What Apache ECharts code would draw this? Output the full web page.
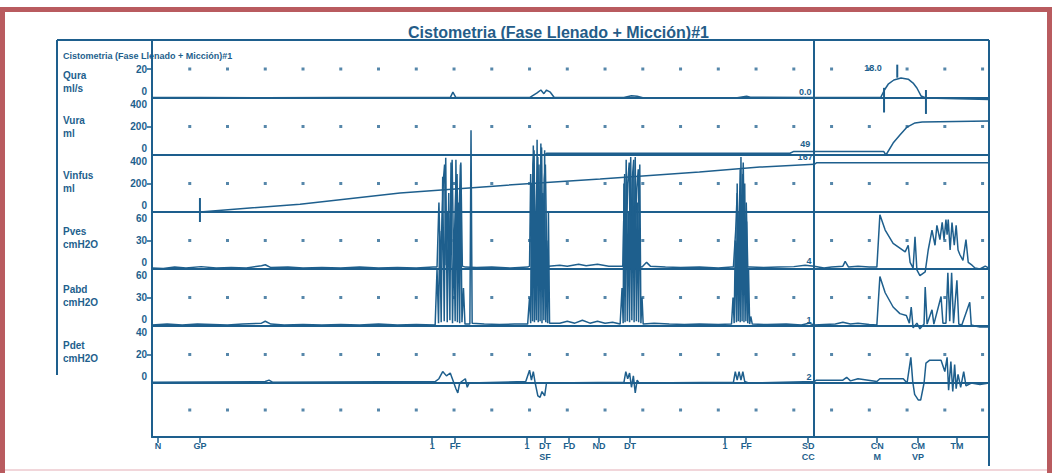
<!DOCTYPE html>
<html>
<head>
<meta charset="utf-8">
<title>Cistometria</title>
<script src="https://cdn.jsdelivr.net/npm/echarts@6/dist/echarts.min.js"></script>
<style>
  html, body { margin: 0; padding: 0; background: #fff; }
  #chart { width: 1052px; height: 473px; }
</style>
</head>
<body>
<div id="chart"></div>
<script>
// x axis: one unit = one grid dot column
const X_MAX = 22.17
const DIVIDER = 17.54

const channelNames = ['Qura\nml/s', 'Vura\nml', 'Vinfus\nml', 'Pves\ncmH2O', 'Pabd\ncmH2O', 'Pdet\ncmH2O']
const channelMax = [40, 400, 400, 60, 60, 40]
const channelMid = [20, 200, 200, 30, 30, 20]
const channelTicks = [[0, 20], [0, 200, 400], [0, 200, 400], [0, 30, 60], [0, 30, 60], [0, 20, 40]]
const dotX = [1, 2, 3, 4, 5, 6, 7, 8, 9, 10, 11, 12, 13, 14, 15, 16, 17, 18, 19, 20, 21, 22]

// event marks under the time axis
const eventX = [0.16, 1.27, 7.42, 8.03, 9.93, 10.41, 11.05, 11.84, 12.66, 15.18, 15.74, 17.38, 19.21, 20.29, 21.32]
const eventLabels = ['N', 'GP', '1', 'FF', '1', 'DT\nSF', 'FD', 'ND', 'DT', '1', 'FF', 'SD\nCC', 'CN\nM', 'CM\nVP', 'TM']

// values printed next to the traces
const annotX = [17.3, 17.3, 17.3, 17.4, 17.4, 17.4]
const annotY = [4, 80, 385, 8, 6, 4]
const annotText = ['0.0', '49', '167', '4', '1', '2']

// vertical markers drawn on traces [x, low, high]
const quraMarks = [[19.39, -10, 7], [19.74, 14, 23], [20.5, -11, 5.5]]
const vinfusMarks = [[1.27, -70, 98]]

const quraData = [[0, 0.3], [1.27, 0.3], [3, 0.2], [5, 0.3], [7.9, 0.3], [7.97, 4], [8.05, 0.3], [10.0, 0.3], [10.2, 3.5], [10.3, 5.5],
  [10.38, 3], [10.45, 5.5], [10.55, 4], [10.65, 0.5], [12.5, 0.3], [12.7, 1.5], [12.85, 1.2], [13, 0.2], [15.5, 0.2], [15.75, 1.2],
  [15.85, 0.5], [17.54, 0.3], [19.3, 0.3], [19.4, 5.5], [19.5, 9.5], [19.65, 12.4], [19.84, 13.8], [20.03, 13], [20.16, 10.3],
  [20.26, 6.9], [20.37, 1.4], [20.5, 0], [22.17, -1]]

const vuraData = [[0, 0], [10.4, 0], [10.45, 12], [16.9, 12], [17.0, 25], [19.38, 25], [19.44, 0], [19.63, 84], [19.81, 140],
  [20.0, 196], [20.21, 225], [20.4, 232], [22.17, 239]]

const vinfusData = [[0, 0], [1.27, 0], [3.92, 55], [6.57, 133], [9.22, 185], [11.87, 232], [14.5, 280], [16.1, 315], [17.54, 335],
  [17.6, 345], [22.17, 345]]

const pvesData = [[0, 1], [0.3, 0.5], [0.6, 2], [0.9, 1], [1.3, 2.5], [1.7, 1], [2.1, 1.5], [2.5, 1], [2.9, 3.5], [3.0, 4.5], [3.15, 1.5],
  [3.6, 2], [4.0, 1], [4.5, 1.5], [5.0, 1], [5.5, 2], [6.0, 1], [6.5, 1.5], [7.0, 1], [7.45, 2],
  [7.55, 2], [7.6, 70], [7.64, 3], [7.72, 95], [7.75, 110], [7.79, 4], [7.83, 60], [7.87, 2], [7.92, 85], [7.95, 115], [7.99, 3],
  [8.05, 90], [8.08, 100], [8.11, 2], [8.15, 80], [8.18, 112], [8.22, 3], [8.3, 2],
  [8.6, 1.5], [9.0, 2], [9.5, 1], [9.95, 2],
  [10.0, 3], [10.03, 100], [10.06, 5], [10.09, 110], [10.12, 125], [10.15, 3], [10.19, 90], [10.22, 118], [10.25, 6], [10.29, 105],
  [10.32, 128], [10.35, 4], [10.39, 95], [10.42, 110], [10.46, 5], [10.5, 3],
  [10.8, 4], [11.0, 3], [11.3, 5], [11.5, 3.5], [11.8, 5], [12.1, 3], [12.4, 3],
  [12.47, 3], [12.52, 100], [12.55, 4], [12.6, 90], [12.64, 112], [12.67, 3], [12.72, 95], [12.76, 115], [12.79, 4], [12.84, 85],
  [12.88, 105], [12.92, 3], [12.98, 2],
  [13.1, 7], [13.2, 3], [13.6, 2], [14.0, 1.5], [14.5, 2], [15.0, 1], [15.35, 2],
  [15.4, 2], [15.46, 40], [15.5, 80], [15.53, 3], [15.58, 105], [15.61, 4], [15.66, 112], [15.7, 3], [15.74, 70], [15.78, 2], [15.85, 2],
  [16.2, 1.5], [16.6, 2], [17.0, 2.5], [17.3, 4], [17.54, 3], [17.8, 1], [18.0, 2], [18.3, 3], [18.36, 8], [18.45, 2], [18.7, 3],
  [19.0, 2], [19.2, 2],
  [19.28, 57], [19.42, 41], [19.63, 27], [19.81, 22], [19.95, 18], [20.03, 25], [20.08, 7], [20.16, 1], [20.21, 34], [20.26, -1],
  [20.34, -7], [20.48, -3], [20.56, 20], [20.66, 41], [20.74, 25], [20.79, 46], [20.87, 31], [20.93, 49], [20.98, 31], [21.03, 52],
  [21.06, 36], [21.09, 52], [21.14, 20], [21.19, 49], [21.25, 25], [21.3, 46], [21.35, 20], [21.4, 15], [21.48, 9], [21.56, 31],
  [21.62, 7], [21.72, 4], [21.8, 1], [21.93, 0], [22.07, 3], [22.17, 1]]

const pabdData = [[0, 1], [0.4, 2], [0.8, 1], [1.2, 2], [1.6, 1.5], [2.0, 1], [2.4, 2], [2.9, 3], [3.0, 5], [3.15, 2], [3.5, 1],
  [4.0, 1.5], [4.5, 1], [5.0, 1.5], [5.5, 1], [6.0, 2], [6.5, 1], [7.0, 1.5], [7.5, 1],
  [7.55, 60], [7.59, 3], [7.62, 100], [7.66, 4], [7.7, 157], [7.74, 5], [7.78, 177], [7.82, 4], [7.86, 140], [7.89, 6], [7.92, 172],
  [7.96, 3], [8.0, 90], [8.03, 5], [8.05, 175], [8.09, 4], [8.12, 130], [8.15, 3], [8.17, 170], [8.21, 4], [8.25, 40], [8.29, 2],
  [8.42, 2], [8.45, 206], [8.48, 3],
  [8.8, 2], [9.2, 1.5], [9.6, 2], [9.95, 2],
  [10.0, 30], [10.03, 3], [10.05, 150], [10.08, 5], [10.1, 190], [10.13, 4], [10.15, 120], [10.18, 6], [10.2, 196], [10.23, 4],
  [10.25, 170], [10.28, 5], [10.3, 192], [10.33, 3], [10.35, 140], [10.38, 6], [10.4, 185], [10.43, 4], [10.45, 90], [10.48, 3],
  [10.5, 120], [10.53, 3],
  [10.8, 3], [11.0, 5], [11.2, 3], [11.4, 6], [11.6, 3], [11.8, 5], [12.0, 3], [12.2, 4], [12.4, 2],
  [12.45, 40], [12.48, 3], [12.5, 150], [12.53, 4], [12.56, 175], [12.59, 5], [12.62, 120], [12.65, 4], [12.68, 178], [12.71, 6],
  [12.74, 160], [12.77, 4], [12.8, 178], [12.83, 5], [12.86, 130], [12.89, 4], [12.92, 170], [12.95, 3], [12.98, 30], [13.01, 2],
  [13.3, 3], [13.7, 2], [14.1, 1.5], [14.5, 2], [15.0, 1.5], [15.35, 2],
  [15.39, 30], [15.42, 3], [15.45, 90], [15.48, 4], [15.5, 150], [15.53, 5], [15.55, 120], [15.58, 4], [15.6, 178], [15.63, 5],
  [15.65, 160], [15.68, 4], [15.7, 150], [15.73, 5], [15.75, 110], [15.78, 3], [15.8, 60], [15.83, 2], [15.86, 10], [15.9, 2],
  [16.3, 1.5], [16.8, 2], [17.2, 1], [17.4, 3], [17.54, 1], [17.8, 1.5], [18.1, 2], [18.3, 4], [18.5, 2], [18.7, 3], [19.0, 1.5], [19.2, 1],
  [19.28, 52], [19.42, 35], [19.63, 20], [19.81, 13], [19.98, 11], [20.06, 3], [20.11, 20], [20.16, -2], [20.26, 3], [20.34, -3],
  [20.45, 2], [20.48, 41], [20.53, 2], [20.66, 17], [20.71, 2], [20.9, 31], [20.95, 3], [21.03, 3], [21.08, 56], [21.13, 5],
  [21.18, 56], [21.23, 3], [21.32, 48], [21.37, 2], [21.45, 1], [21.66, 25], [21.7, 1], [21.8, 0], [21.93, -1], [22.17, -1]]

const pdetData = [[0, 0.5], [3, 1], [3.1, 2], [3.2, 0.5], [7.5, 1], [7.6, 3], [7.7, 8], [7.8, 5], [7.9, 7], [7.97, 2], [8.05, -4],
  [8.1, -7], [8.15, 0], [8.3, 3], [8.35, -3], [8.4, 0], [9.9, 1], [10.0, 9], [10.05, 2], [10.1, 8], [10.15, 0], [10.22, -9],
  [10.28, -10], [10.33, -6], [10.4, -9], [10.45, 0], [12.5, 0.5], [12.55, 8], [12.6, 3], [12.65, 7], [12.7, -3], [12.75, 5],
  [12.8, -7], [12.85, 2], [12.9, 0], [15.4, 0.5], [15.45, 8], [15.5, 2], [15.55, 8], [15.6, 2], [15.65, 8], [15.7, 1], [15.8, 0],
  [17.54, 1], [17.6, 2], [18.3, 2], [18.4, 4], [18.5, 1.5], [18.7, 3], [19.2, 1], [19.28, 3], [19.9, 3], [20.0, 0], [20.1, 18],
  [20.15, 1], [20.2, -8], [20.3, -12], [20.36, -12], [20.45, 0], [20.5, 14], [20.6, 16], [20.9, 16], [21.0, 8], [21.06, 18],
  [21.1, -5], [21.16, 15], [21.21, -6], [21.26, 13], [21.3, -4], [21.35, 6], [21.42, -3], [21.5, 8], [21.56, -2], [21.7, 0],
  [21.93, -1], [22.17, 0]]

const traces = [quraData, vuraData, vinfusData, pvesData, pabdData, pdetData]
const marks = [quraMarks, [], vinfusMarks, [], [], []]

const BLUE = '#1e5f8d'
const FONT = 'Liberation Sans'

// layout of the 7 strips (6 channels + empty bottom strip)
const gridTops = [40, 98, 155, 212, 269, 326, 383]
const gridHeights = [58, 57, 57, 57, 57, 57, 54]
const nameTops = [64, 109, 164, 220, 278, 334]

const chart = echarts.init(document.getElementById('chart'), null, { renderer: 'svg' })

const grids = gridTops.map((t, i) => ({ left: 152, right: 63, top: t, height: gridHeights[i] }))

const xAxes = gridTops.map((t, i) => ({
  type: 'value',
  gridIndex: i,
  min: 0,
  max: X_MAX,
  interval: 1,
  axisLine: { show: true, onZero: false, lineStyle: { color: BLUE, width: 2 } },
  axisTick: i === 6
    ? { show: true, customValues: eventX, length: 6, lineStyle: { color: BLUE, width: 1.5 } }
    : { show: false },
  axisLabel: i === 6
    ? {
        show: true,
        customValues: eventX,
        margin: 3,
        color: BLUE,
        fontSize: 9,
        fontWeight: 'bold',
        fontFamily: FONT,
        lineHeight: 11,
        formatter: v => {
          const k = eventX.findIndex(e => Math.abs(e - v) < 1e-6)
          return k >= 0 ? eventLabels[k] : ''
        }
      }
    : { show: false },
  splitLine: { show: false }
}))

const yAxes = gridTops.map((t, i) => {
  if (i === 6) {
    return {
      type: 'value', gridIndex: 6, min: -40, max: 0,
      axisLine: { show: true, onZero: false, lineStyle: { color: BLUE, width: 2 } },
      axisTick: { show: false }, axisLabel: { show: false }, splitLine: { show: false }
    }
  }
  const max = channelMax[i]
  return {
    type: 'value',
    gridIndex: i,
    min: 0,
    max: max,
    interval: channelMid[i],
    axisLine: { show: true, onZero: false, lineStyle: { color: BLUE, width: 2 } },
    axisTick: { show: true, customValues: [channelMid[i]], length: 5, lineStyle: { color: BLUE, width: 1.5 } },
    axisLabel: {
      customValues: channelTicks[i],
      margin: 5,
      color: BLUE,
      fontSize: 10,
      fontWeight: 'bold',
      fontFamily: FONT,
      formatter: v => (v === max ? '{top|' + v + '}' : v === 0 ? '{bot|0}' : String(v)),
      rich: {
        top: { padding: [13, 0, 0, 0], color: BLUE, fontSize: 10, fontWeight: 'bold', fontFamily: FONT },
        bot: { padding: [0, 0, 13, 0], color: BLUE, fontSize: 10, fontWeight: 'bold', fontFamily: FONT }
      }
    },
    splitLine: { show: false }
  }
})

const series = []

traces.forEach((data, i) => {
  series.push({
    type: 'line',
    xAxisIndex: i,
    yAxisIndex: i,
    data: data,
    showSymbol: false,
    symbol: 'none',
    clip: false,
    animation: false,
    lineStyle: { color: BLUE, width: 1.5 },
    markLine: {
      silent: true,
      symbol: ['none', 'none'],
      label: { show: false },
      lineStyle: { color: BLUE, width: 2, type: 'solid' },
      data: [{ xAxis: DIVIDER }]
    },
    markPoint: {
      silent: true,
      symbol: 'circle',
      symbolSize: 0,
      label: {
        show: true,
        position: 'inside',
        color: BLUE,
        fontSize: 9,
        fontWeight: 'bold',
        fontFamily: FONT
      },
      data: [{ coord: [annotX[i], annotY[i]], value: annotText[i] }].concat(
        i === 0 ? [{ coord: [19.1, 21], value: '18.0' }] : []
      )
    }
  })
  // short vertical event markers on the trace
  marks[i].forEach(m => {
    series.push({
      type: 'line',
      xAxisIndex: i,
      yAxisIndex: i,
      data: [[m[0], m[1]], [m[0], m[2]]],
      showSymbol: false,
      symbol: 'none',
      clip: false,
      silent: true,
      animation: false,
      lineStyle: { color: BLUE, width: 2 }
    })
  })
})

// divider on the empty bottom strip
series.push({
  type: 'line',
  xAxisIndex: 6,
  yAxisIndex: 6,
  data: [],
  animation: false,
  markLine: {
    silent: true,
    symbol: ['none', 'none'],
    label: { show: false },
    lineStyle: { color: BLUE, width: 2, type: 'solid' },
    data: [{ xAxis: DIVIDER }]
  }
})

// grid dots at the middle tick of each strip
gridTops.forEach((t, i) => {
  const mid = i === 6 ? -20 : channelMid[i]
  series.push({
    type: 'scatter',
    xAxisIndex: i,
    yAxisIndex: i,
    data: dotX.map(x => [x, mid]),
    symbol: 'rect',
    symbolSize: 3,
    silent: true,
    animation: false,
    itemStyle: { color: BLUE, opacity: 0.75 }
  })
})

const titles = [
  {
    text: 'Cistometria (Fase Llenado + Micción)#1',
    left: 403,
    top: 19,
    textStyle: { color: '#245c88', fontSize: 16, fontWeight: 'bold', fontFamily: FONT }
  },
  {
    text: 'Cistometria (Fase Llenado + Micción)#1',
    left: 58,
    top: 46,
    textStyle: { color: BLUE, fontSize: 9, fontWeight: 'bold', fontFamily: FONT }
  }
].concat(channelNames.map((n, i) => ({
  text: n,
  left: 58,
  top: nameTops[i],
  textStyle: { color: BLUE, fontSize: 10, lineHeight: 13, fontWeight: 'bold', fontFamily: FONT }
})))

chart.setOption({
  backgroundColor: '#ffffff',
  animation: false,
  title: titles,
  grid: grids,
  xAxis: xAxes,
  yAxis: yAxes,
  series: series,
  graphic: [
    // red frame of the page
    { type: 'rect', shape: { x: 0, y: 7, width: 1052, height: 5 }, style: { fill: '#b95b5f' }, silent: true },
    { type: 'rect', shape: { x: 0, y: 7, width: 5, height: 466 }, style: { fill: '#b95b5f' }, silent: true },
    { type: 'rect', shape: { x: 1047, y: 7, width: 5, height: 466 }, style: { fill: '#b95b5f' }, silent: true },
    { type: 'rect', shape: { x: 5, y: 469, width: 1042, height: 2 }, style: { fill: '#f1d6da' }, silent: true },
    // outer box of the recording
    { type: 'line', shape: { x1: 57, y1: 40, x2: 989, y2: 40 }, style: { stroke: BLUE, lineWidth: 2 }, silent: true },
    { type: 'line', shape: { x1: 57, y1: 40, x2: 57, y2: 375 }, style: { stroke: BLUE, lineWidth: 2 }, silent: true },
    { type: 'line', shape: { x1: 989, y1: 40, x2: 989, y2: 466 }, style: { stroke: BLUE, lineWidth: 2 }, silent: true }
  ]
})
</script>
</body>
</html>
